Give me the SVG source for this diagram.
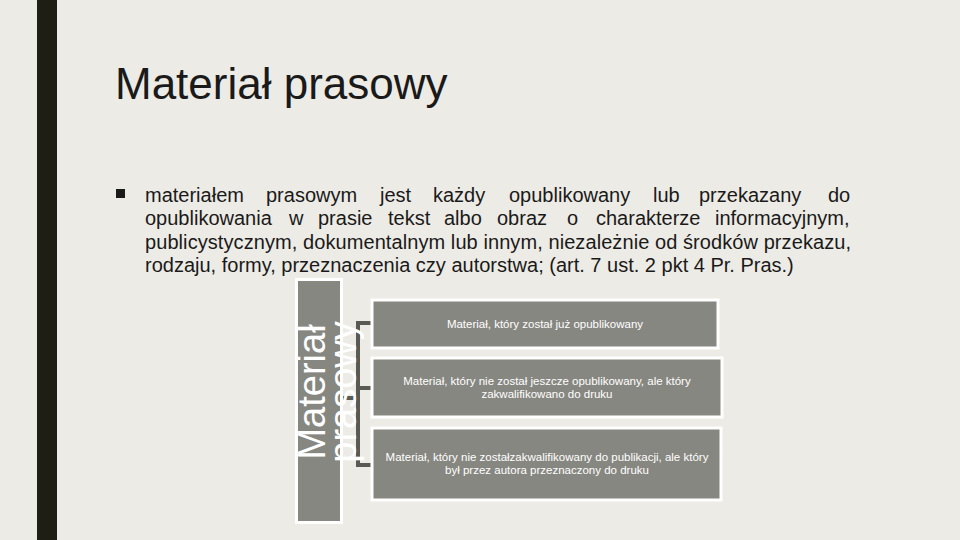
<svg xmlns="http://www.w3.org/2000/svg" width="960" height="540" viewBox="0 0 960 540">
<style>
.b{font-family:"Liberation Sans",Arial,sans-serif;font-size:20px;fill:#1a1a1a}
.n{fill:#878781;stroke:#fff;stroke-width:3}
.t{font-family:"Liberation Sans",Arial,sans-serif;font-size:11.5px;fill:#fff;text-anchor:middle}
.c{fill:none;stroke:#5a5a55;stroke-width:4}
</style>
<rect width="960" height="540" fill="#edebe5"/>
<rect x="37" y="0" width="20" height="540" fill="#1e1e14"/>
<text x="115" y="99" font-family="Liberation Sans,Arial,sans-serif" font-size="44" fill="#1a1a1a">Materiał prasowy</text>
<rect x="116" y="189" width="9" height="9" fill="#1a1a1a"/>
<text class="b" y="202"><tspan x="145">materiałem</tspan><tspan x="266">prasowym</tspan><tspan x="380">jest</tspan><tspan x="433">każdy</tspan><tspan x="509">opublikowany</tspan><tspan x="653">lub</tspan><tspan x="699">przekazany</tspan><tspan x="828">do</tspan></text>
<text class="b" y="225"><tspan x="145">opublikowania</tspan><tspan x="289">w</tspan><tspan x="318">prasie</tspan><tspan x="388">tekst</tspan><tspan x="444">albo</tspan><tspan x="497">obraz</tspan><tspan x="567">o</tspan><tspan x="596">charakterze</tspan><tspan x="715">informacyjnym,</tspan></text>
<text class="b" x="145" y="249" textLength="706" lengthAdjust="spacing">publicystycznym, dokumentalnym lub innym, niezależnie od środków przekazu,</text>
<text class="b" x="145" y="272">rodzaju, formy, przeznaczenia czy autorstwa; (art. 7 ust. 2 pkt 4 Pr. Pras.)</text>
<g id="connectors">
<path class="c" d="M343 398H358M372 323H358V465H372M358 388H372"/>
</g>
<g id="root">
<rect class="n" x="296.5" y="279.5" width="45" height="243"/>
<text transform="translate(0 392) rotate(-90)" font-family="Liberation Sans,Arial,sans-serif" font-size="38" fill="#fff" text-anchor="middle"><tspan x="0" y="325">Materiał</tspan><tspan x="0" y="356">prasowy</tspan></text>
</g>
<g id="n1"><rect class="n" x="372" y="300" width="346" height="48"/><text class="t" x="545" y="328">Materiał, który został już opublikowany</text></g>
<g id="n2"><rect class="n" x="372" y="358" width="350" height="59"/><text class="t" x="547" y="385">Materiał, który nie został jeszcze opublikowany, ale który</text><text class="t" x="547" y="398">zakwalifikowano do druku</text></g>
<g id="n3"><rect class="n" x="372" y="428" width="349" height="72"/><text class="t" x="547" y="461">Materiał, który nie zostałzakwalifikowany do publikacji, ale który</text><text class="t" x="547" y="474">był przez autora przeznaczony do druku</text></g>
</svg>
